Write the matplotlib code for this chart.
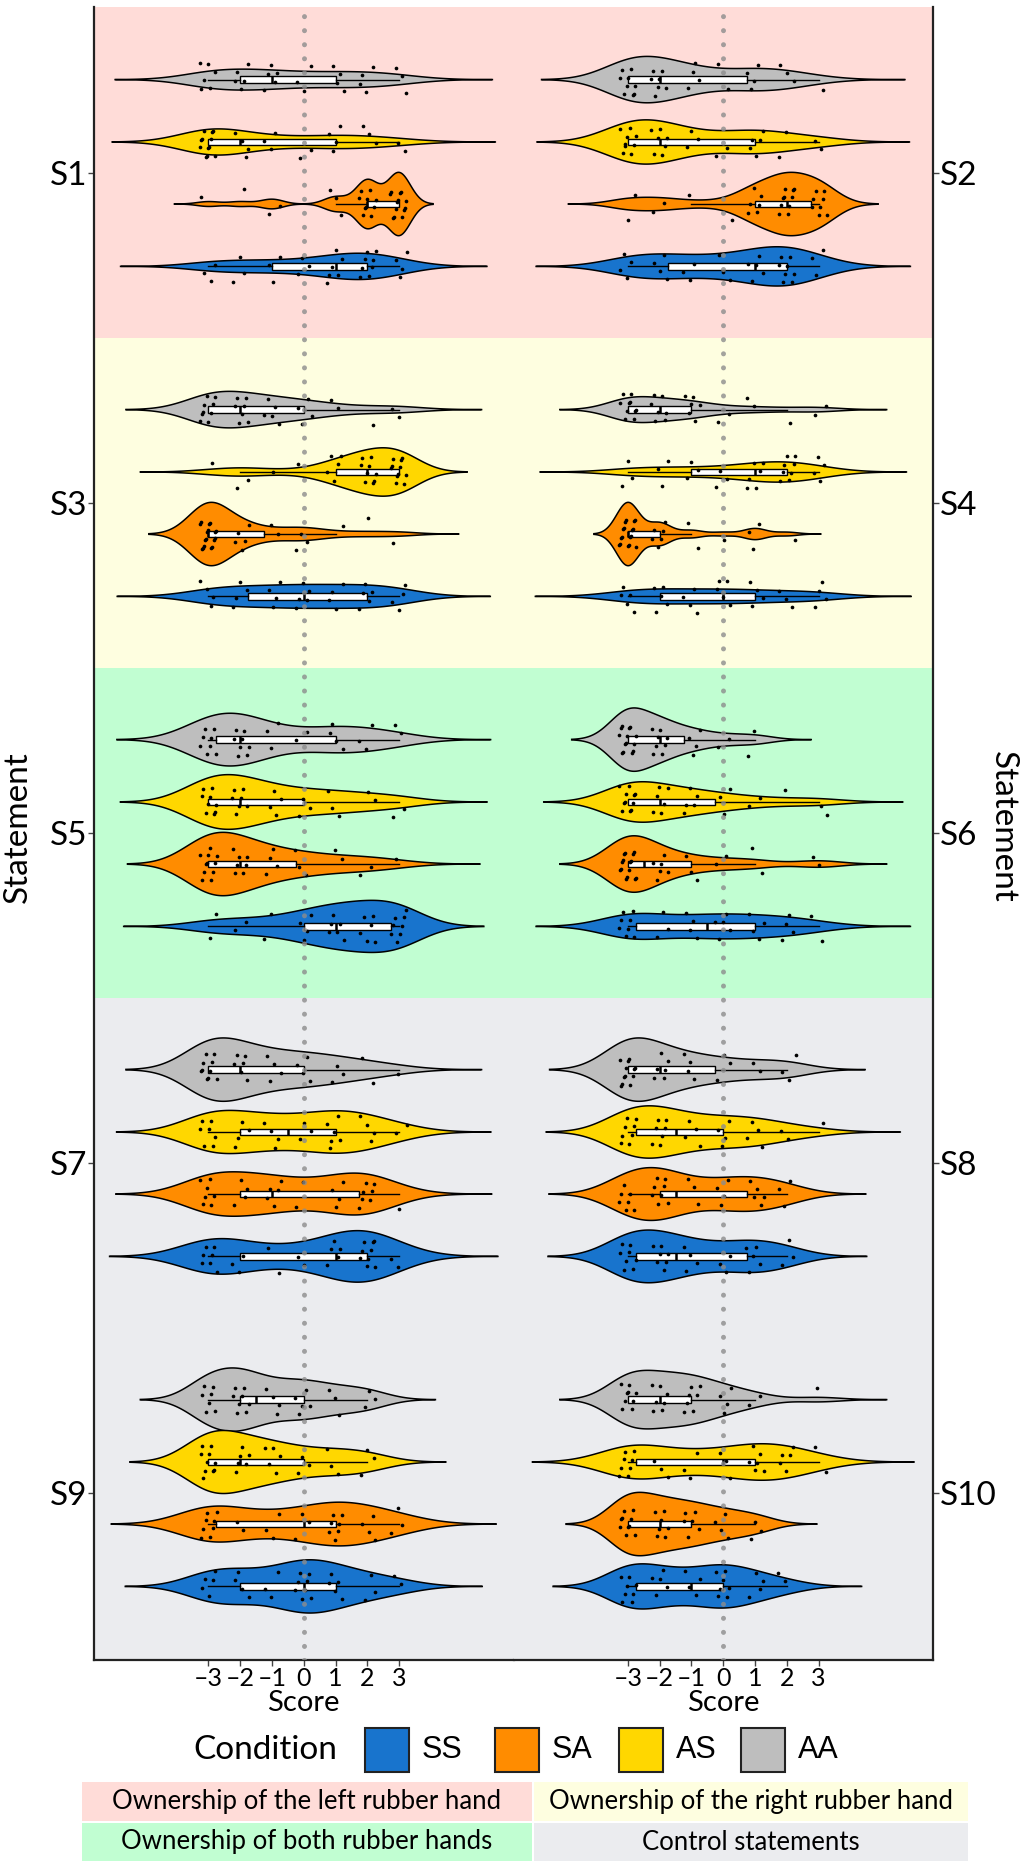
import numpy as np
import matplotlib
matplotlib.use("Agg")
import matplotlib.pyplot as plt
from matplotlib.patches import Rectangle

# Likert scores and per-statement counts (rows S1..S10, columns score -3..3)
scores = [-3, -2, -1, 0, 1, 2, 3]
statements = ["S1", "S2", "S3", "S4", "S5", "S6", "S7", "S8", "S9", "S10"]
conditions = ["SS", "SA", "AS", "AA"]

counts_AA = [
    [6, 5, 5, 3, 4, 4, 3],
    [9, 7, 4, 2, 4, 3, 1],
    [9, 7, 5, 4, 2, 1, 2],
    [10, 7, 6, 2, 2, 1, 2],
    [8, 8, 3, 2, 4, 3, 2],
    [14, 8, 4, 2, 2, 0, 0],
    [10, 6, 4, 4, 3, 2, 1],
    [12, 6, 4, 3, 2, 3, 0],
    [7, 8, 4, 5, 3, 3, 0],
    [9, 7, 7, 4, 2, 0, 1],
]
counts_AS = [
    [12, 4, 3, 2, 4, 3, 2],
    [9, 7, 3, 2, 5, 2, 2],
    [1, 2, 1, 1, 5, 9, 11],
    [3, 3, 3, 3, 6, 8, 4],
    [9, 7, 4, 3, 3, 2, 2],
    [11, 6, 5, 3, 2, 1, 2],
    [7, 4, 4, 3, 6, 4, 2],
    [8, 7, 4, 4, 4, 2, 1],
    [10, 6, 5, 3, 3, 3, 0],
    [8, 3, 3, 3, 6, 5, 2],
]
counts_SA = [
    [1, 1, 2, 0, 3, 10, 13],
    [2, 2, 1, 1, 6, 10, 8],
    [17, 5, 2, 3, 1, 1, 1],
    [17, 6, 2, 1, 3, 1, 0],
    [11, 7, 4, 3, 2, 2, 1],
    [15, 6, 3, 2, 2, 0, 2],
    [7, 4, 5, 2, 4, 7, 1],
    [7, 8, 3, 4, 5, 3, 0],
    [8, 2, 3, 3, 7, 4, 3],
    [10, 7, 6, 4, 3, 0, 0],
]
counts_SS = [
    [3, 3, 3, 3, 6, 8, 4],
    [4, 4, 3, 3, 5, 8, 3],
    [4, 4, 4, 5, 4, 5, 4],
    [5, 5, 4, 5, 4, 3, 4],
    [2, 2, 2, 4, 6, 6, 8],
    [8, 3, 4, 5, 4, 4, 2],
    [7, 3, 2, 2, 5, 9, 2],
    [8, 7, 4, 3, 5, 3, 0],
    [5, 4, 3, 8, 5, 3, 2],
    [8, 5, 4, 7, 4, 2, 0],
]

colors = {"SS": "#1874CD", "SA": "#FF8C00", "AS": "#FFD700", "AA": "#BEBEBE"}
band_colors = ["#FFDCD8", "#FEFEE0", "#C1FED2", "#EBECEF", "#EBECEF"]
band_labels = ["Ownership of the left rubber hand", "Ownership of the right rubber hand",
               "Ownership of both rubber hands", "Control statements"]

counts = {"AA": counts_AA, "AS": counts_AS, "SA": counts_SA, "SS": counts_SS}
order = ["AA", "AS", "SA", "SS"]          # top to bottom within a statement
offsets = [-0.283, -0.094, 0.094, 0.283]

W, H = 1024, 1861
font = ["Lato", "DejaVu Sans"]


def bw_nrd0(x):
    hi = np.std(x, ddof=1)
    q75, q25 = np.percentile(x, [75, 25])
    lo = min(hi, (q75 - q25) / 1.34)
    if not lo:
        lo = hi or abs(x[0]) or 1
    return 0.9 * lo * len(x) ** -0.2


def kde(x, adjust=1.05):
    bw = bw_nrd0(x) * adjust
    grid = np.linspace(x.min() - 3 * bw, x.max() + 3 * bw, 512)
    d = np.exp(-0.5 * ((grid[:, None] - x[None, :]) / bw) ** 2).sum(1)
    d /= len(x) * bw * np.sqrt(2 * np.pi)
    return grid, d


def expand(c):
    return np.repeat(np.array(scores, float), c)


fig = plt.figure(figsize=(W / 100, H / 100), dpi=100)
bottom = 1 - 1660 / H
height = 1653 / H
ax_l = fig.add_axes([94 / W, bottom, 419.5 / W, height])
ax_r = fig.add_axes([513.5 / W, bottom, 419.5 / W, height])

k = 0
for p, ax in enumerate([ax_l, ax_r]):
    idx = list(range(p, 10, 2))
    for i in range(5):
        ax.axhspan(i - 0.5, i + 0.5, color=band_colors[i], lw=0, zorder=0)
    ax.axhspan(-0.6, -0.5, color=band_colors[0], lw=0, zorder=0)
    ax.axhspan(4.5, 4.6, color=band_colors[4], lw=0, zorder=0)

    for i, s in enumerate(idx):
        dens = {cond: kde(expand(counts[cond][s])) for cond in order}
        dmax = max(d.max() for g, d in dens.values())
        for cond, off in zip(order, offsets):
            y = i + off
            vals = expand(counts[cond][s])
            g, d = dens[cond]
            w = 0.096 * d / dmax
            ax.fill(np.r_[g, g[::-1]], np.r_[y + w, (y - w)[::-1]],
                    facecolor=colors[cond], edgecolor="black", lw=1.1, zorder=2)
            ax.boxplot(vals, positions=[y], widths=0.02, orientation="horizontal",
                       patch_artist=True, showfliers=False, showcaps=False,
                       manage_ticks=False,
                       boxprops=dict(facecolor="white", edgecolor="black", lw=1),
                       medianprops=dict(color="black", lw=1.8),
                       whiskerprops=dict(color="black", lw=1), zorder=3)
            n = np.arange(len(vals)) + k
            jx = ((n * 0.6180339) % 1 - 0.5) * 0.55
            jy = ((n * 0.7548777) % 1 - 0.5) * 0.1
            ax.scatter(vals + jx, y + jy, s=7, color="black", lw=0, zorder=4)
            k += len(vals)

    ax.axvline(0, color="#8c8c8c", alpha=0.8, lw=3.6, ls=(0, (0.01, 2.8)),
               dash_capstyle="round", zorder=5)
    ax.set_xlim(-6.6, 6.6)
    ax.set_ylim(4.506, -0.503)
    ax.set_xticks(scores)
    ax.set_xticklabels([str(v).replace("-", "\u2013") for v in scores],
                       fontsize=18, family=font)
    ax.set_xlabel("Score", fontsize=21, family=font, labelpad=0)
    ax.set_yticks(range(5))
    ax.set_yticklabels([statements[s] for s in idx], fontsize=24, family=font)
    ax.tick_params(axis="both", length=4, width=1, color="#444444", pad=1)
    ax.spines["top"].set_visible(False)
    for sp in ax.spines.values():
        sp.set_linewidth(1.6)
        sp.set_color("#222222")

ax_l.spines["right"].set_visible(False)
ax_r.spines["left"].set_visible(False)
ax_r.yaxis.tick_right()

fig.text(18 / W, 1 - 827 / H, "Statement", rotation=90, fontsize=24, family=font,
         ha="center", va="center")
fig.text(1003 / W, 1 - 827 / H, "Statement", rotation=270, fontsize=24, family=font,
         ha="center", va="center")

# condition legend
fig.text(193 / W, 1 - 1750 / H, "Condition", fontsize=24, family=font, va="center")
legend_x = [365, 495, 619, 741]
for cond, lx in zip(conditions, legend_x):
    fig.add_artist(Rectangle((lx / W, 1 - 1772 / H), 44 / W, 44 / H,
                             transform=fig.transFigure, facecolor=colors[cond],
                             edgecolor="#222222", lw=1.5))
    fig.text((lx + 57) / W, 1 - 1750 / H, cond, fontsize=22,
             family=["Liberation Sans", "DejaVu Sans"], va="center")

# statement-group key
cells = [(82, 532, 1782, 1821), (534, 968, 1782, 1821),
         (82, 532, 1823, 1861), (534, 968, 1823, 1861)]
cell_colors = [band_colors[0], band_colors[1], band_colors[2], band_colors[3]]
for (x0, x1, y0, y1), c, lab in zip(cells, cell_colors, band_labels):
    fig.add_artist(Rectangle((x0 / W, 1 - y1 / H), (x1 - x0) / W, (y1 - y0) / H,
                             transform=fig.transFigure, facecolor=c, lw=0))
    fig.text((x0 + x1) / 2 / W, 1 - (y0 + y1) / 2 / H, lab, fontsize=18.5, family=font,
             ha="center", va="center")

fig.savefig("out.png", dpi=100)
